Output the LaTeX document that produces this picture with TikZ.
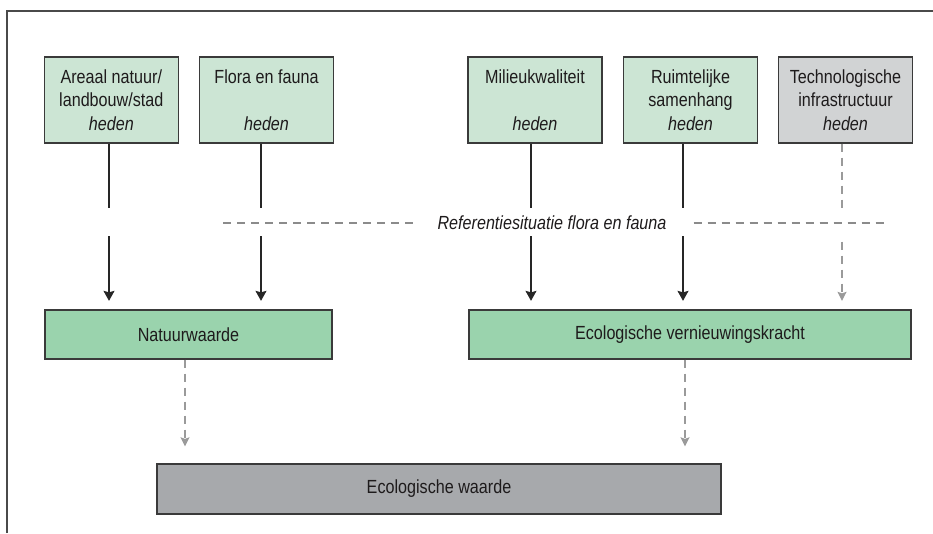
\documentclass[tikz,border=0pt]{standalone}
\usepackage{fontspec}
\setmainfont{Liberation Sans}[FakeStretch=0.85]
\usetikzlibrary{arrows.meta}
\definecolor{boxline}{HTML}{3A3A3A}
\definecolor{inktext}{HTML}{1E1B1C}
\definecolor{palegreen}{HTML}{CCE5D4}
\definecolor{midgreen}{HTML}{9AD3AD}
\definecolor{palegray}{HTML}{D1D3D4}
\definecolor{midgray}{HTML}{A7A9AC}
\definecolor{dashgray}{HTML}{9A9A9A}
\definecolor{framegray}{HTML}{4A4A4A}
\tikzset{
  basebox/.style={draw=boxline, line width=1.3pt, rectangle, inner sep=0pt,
    text=inktext, align=center,
    font=\fontsize{19}{23.5}\selectfont},
  topbox/.style={basebox, fill=palegreen, minimum width=134pt, minimum height=86pt},
  techbox/.style={basebox, fill=palegray, minimum width=134pt, minimum height=86pt},
  resultbox/.style={basebox, fill=midgreen, minimum height=49pt},
  finalbox/.style={basebox, fill=midgray, minimum height=50pt},
  conn/.style={draw=black!85, line width=1.3pt,
    -{Stealth[length=10pt,width=11pt,inset=1.5pt]}, shorten >=8.5pt},
  softconn/.style={draw=dashgray, line width=1.3pt, dash pattern=on 8pt off 6pt,
    -{Stealth[length=9pt,width=9pt,inset=1.5pt]}},
  refline/.style={draw=dashgray!90!black, line width=1.3pt, dash pattern=on 8pt off 6pt},
  frameline/.style={draw=framegray, line width=1.5pt}
}
\begin{document}
\begin{tikzpicture}[x=1pt, y=-1pt]
\useasboundingbox (0,0) rectangle (933,533);

% outer frame (top and left edges)
\draw[frameline] (7,533) -- (7,11) -- (933,11);

% input boxes
\node[topbox]  (areaal) at (111.3,100) {Areaal natuur/\\landbouw/stad\\\textit{heden}};
\node[topbox]  (flora)  at (266.5,100) {Flora en fauna\\\mbox{}\\\textit{heden}};
\node[topbox]  (milieu) at (535,100)   {Milieukwaliteit\\\mbox{}\\\textit{heden}};
\node[topbox]  (ruimte) at (690.5,100) {Ruimtelijke\\samenhang\\\textit{heden}};
\node[techbox] (techno) at (845.5,100) {Technologische\\infrastructuur\\\textit{heden}};

% intermediate boxes
\node[resultbox, minimum width=287pt] (natuur) at (188.5,334.5) {Natuurwaarde};
\node[resultbox, minimum width=442pt] (vernieuw) at (690,334.5) {Ecologische vernieuwingskracht};

% final box
\node[finalbox, minimum width=564pt] (ecowaarde) at (439,489) {Ecologische waarde};

% connector columns
\coordinate (xa) at (109,0);
\coordinate (xf) at (261,0);
\coordinate (xm) at (531,0);
\coordinate (xr) at (683,0);
\coordinate (xt) at (842,0);
\coordinate (xn) at (185,0);
\coordinate (xv) at (685,0);

\draw[conn] (areaal.south -| xa) -- (natuur.north -| xa);
\draw[conn] (flora.south -| xf) -- (natuur.north -| xf);
\draw[conn] (milieu.south -| xm) -- (vernieuw.north -| xm);
\draw[conn] (ruimte.south -| xr) -- (vernieuw.north -| xr);
\draw[softconn, shorten >=8.5pt] (techno.south -| xt) -- (vernieuw.north -| xt);

\draw[softconn, shorten >=17pt] (natuur.south -| xn) -- (ecowaarde.north -| xn);
\draw[softconn, shorten >=17pt] (vernieuw.south -| xv) -- (ecowaarde.north -| xv);

% reference band interrupting the upper connectors
\fill[white] (20,208) rectangle (925,236);
\node[text=inktext, inner sep=0pt, font=\fontsize{19}{22}\selectfont\itshape]
  (ref) at (552,223) {Referentiesituatie flora en fauna};
\coordinate (refL) at (223,223);
\coordinate (refR) at (887,223);
\draw[refline] (refL) -- ([xshift=-19pt]ref.west |- refL);
\draw[refline] ([xshift=27pt]ref.east |- refR) -- (refR);
\end{tikzpicture}
\end{document}
